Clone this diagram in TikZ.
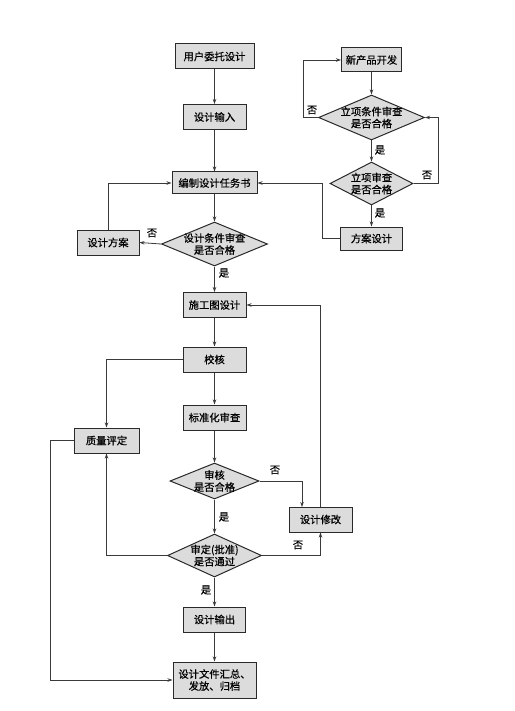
\documentclass[tikz,border=0pt]{standalone}
\usepackage{fontspec}
\newfontfamily\cjk{Noto Sans CJK SC}[FakeBold=0.6]
\usetikzlibrary{shapes.geometric,arrows.meta}
\definecolor{boxfill}{HTML}{DCDCDC}
\definecolor{edge}{HTML}{2A2A2A}
\definecolor{wire}{HTML}{3A3A3A}
\begin{document}
\begin{tikzpicture}[x=1pt,y=-1pt,
  txt/.style={font=\cjk\fontsize{10.3}{12}\selectfont, text=black},
  box/.style={txt, draw=edge, line width=1pt, fill=boxfill, inner sep=0pt, minimum width=63pt, minimum height=25pt, align=center},
  dia/.style={diamond, draw=edge, line width=1pt, fill=boxfill, inner sep=0pt},
  dtxt/.style={label={[txt, align=center]center:#1}},
  arr/.style={draw=wire, line width=0.8pt, -{Stealth[length=5pt,width=3.5pt]}},
  lab/.style={txt, inner sep=0pt}
]
\fill[white] (0,0) rectangle (514,711);
\useasboundingbox (0,0) rectangle (514,711);

% main column
\node[box, minimum width=79pt] (u1) at (214.5,56.5) {用户委托设计};
\node[box] (u2) at (214.5,117) {设计输入};
\node[box, minimum width=85pt, minimum height=22pt] (u3) at (214.5,183) {编制设计任务书};
\node[dia, minimum width=106pt, minimum height=44pt, dtxt={设计条件审查\\是否合格}] (d1) at (214.5,244) {};
\node[box, minimum width=62pt] (fa) at (108,242.5) {设计方案};

% right column
\node[box, minimum width=60pt, minimum height=24pt] (np) at (371.5,60) {新产品开发};
\node[dia, minimum width=106pt, minimum height=45pt, dtxt={立项条件审查\\是否合格}] (d2) at (371.5,117.5) {};
\node[dia, minimum width=83pt, minimum height=43pt, dtxt={立项审查\\是否合格}] (d3) at (371.5,183.5) {};
\node[box, minimum width=62pt, minimum height=23pt] (fs) at (371.5,238.5) {方案设计};

% lower part
\node[box] (sg) at (214.5,305) {施工图设计};
\node[box] (jh) at (214.5,359.5) {校核};
\node[box] (bz) at (214.5,417.5) {标准化审查};
\node[box, minimum width=65pt] (zl) at (106.5,440.5) {质量评定};
\node[dia, minimum width=89pt, minimum height=36pt, dtxt={审核\\是否合格}] (d4) at (214.5,481) {};
\node[box] (xg) at (320.5,519.5) {设计修改};
\node[dia, minimum width=94pt, minimum height=43pt, dtxt={审定(批准)\\是否通过}] (d5) at (214.5,555.5) {};
\node[box, minimum width=62pt] (sc) at (214.5,619.5) {设计输出};
\node[box, minimum width=83pt, minimum height=36pt] (wj) at (214.5,680) {设计文件汇总、\\发放、归档};

% connectors: main column
\draw[arr] (u1) -- (u2);
\draw[arr] (u2) -- (u3);
\draw[arr] (u3) -- (d1);
\draw[arr] (d1.west) -- (fa.east);
\draw[arr] (fa.north) |- (u3.west);
\draw[arr] (d1.south) -- (sg.north);
\node[lab] (l1) at (152,233) {否};
\node[lab] (l2) at (224,273) {是};

% connectors: right column
\draw[arr] (np) -- (d2);
\coordinate (c1) at (303,117.5);
\draw[arr] (d2.west) -- (c1) |- (np.west);
\node[lab] (l3) at (312,110) {否};
\draw[arr] (d2.south) -- (d3.north);
\node[lab] (l4) at (380,150) {是};
\coordinate (c2) at (438,183.5);
\draw[arr] (d3.east) -- (c2) |- (d2.east);
\node[lab] (l5) at (427,175) {否};
\draw[arr] (d3.south) -- (fs.north);
\node[lab] (l6) at (380,213) {是};
\coordinate (c3) at (322,238.5);
\draw[arr] (fs.west) -- (c3) |- (u3.east);

% connectors: lower part
\draw[arr] (sg) -- (jh);
\draw[arr] (jh) -- (bz);
\draw[arr] (bz) -- (d4.north);
\draw[arr] (jh.west) -| (zl.north);
\draw[arr] (d4.south) -- (d5.north);
\node[lab] (l7) at (224,517) {是};
\coordinate (c4) at (302,507);
\draw[arr] (d4.east) -| (c4);
\node[lab] (l8) at (275,470) {否};
\draw[arr] (xg.north) |- (sg.east);
\draw[arr] (d5.east) -| (xg.south);
\node[lab] (l9) at (298,545) {否};
\draw[arr] (d5.west) -| (zl.south);
\draw[arr] (d5.south) -- (sc.north);
\node[lab] (l10) at (206,590) {是};
\draw[arr] (sc) -- (wj);
\coordinate (c5) at (50,440.5);
\draw[arr] (zl.west) -- (c5) |- (wj.west);
\end{tikzpicture}
\end{document}
